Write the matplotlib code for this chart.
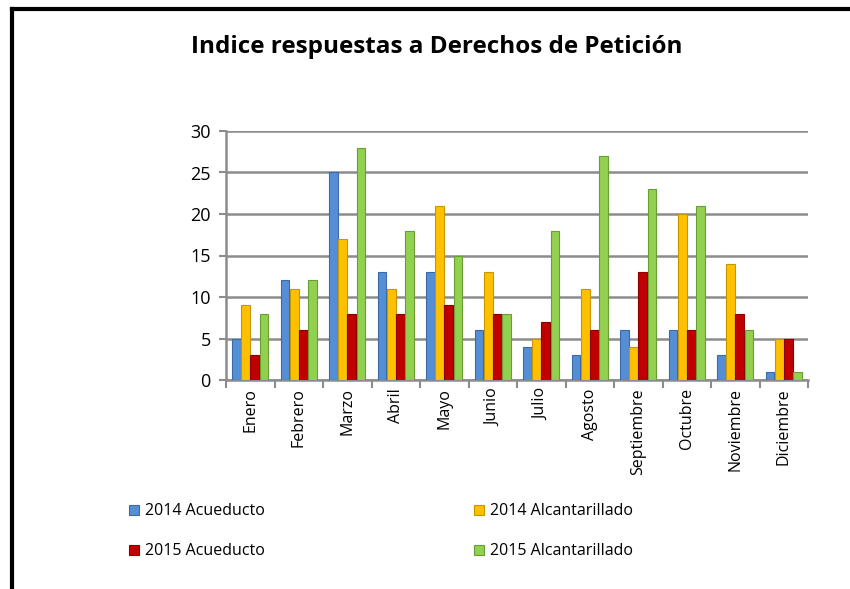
import numpy as np
import matplotlib
matplotlib.use('Agg')
import matplotlib.pyplot as plt
from matplotlib.lines import Line2D

plt.rcParams['font.family'] = ['Open Sans', 'DejaVu Sans']

# datos
meses = ['Enero', 'Febrero', 'Marzo', 'Abril', 'Mayo', 'Junio', 'Julio',
         'Agosto', 'Septiembre', 'Octubre', 'Noviembre', 'Diciembre']
acueducto_2014 = [5, 12, 25, 13, 13, 6, 4, 3, 6, 6, 3, 1]
alcantarillado_2014 = [9, 11, 17, 11, 21, 13, 5, 11, 4, 20, 14, 5]
acueducto_2015 = [3, 6, 8, 8, 9, 8, 7, 6, 13, 6, 8, 5]
alcantarillado_2015 = [8, 12, 28, 18, 15, 8, 18, 27, 23, 21, 6, 1]

series = [
    ('2014 Acueducto', acueducto_2014, '#558ED5', '#3A6BA8'),
    ('2014 Alcantarillado', alcantarillado_2014, '#FFC000', '#C89600'),
    ('2015 Acueducto', acueducto_2015, '#C00000', '#8A0000'),
    ('2015 Alcantarillado', alcantarillado_2015, '#92D050', '#6A9E35'),
]

fig = plt.figure(figsize=(8.5, 5.89), dpi=100)
ax = fig.add_axes([226/850, 1-380/589, (808-226)/850, (380-131)/589])

x = np.arange(len(meses))
w = 0.18
paso = 0.19
barras = []
for i, (nombre, vals, color, borde) in enumerate(series):
    b = ax.bar(x + (i - 1.5) * paso, vals, width=w, color=color,
               edgecolor=borde, linewidth=0.8, label=nombre, zorder=3)
    barras.append(b)

ax.set_xlim(-0.5, len(meses) - 0.5)
ax.set_ylim(0, 30)
ax.set_yticks(range(0, 31, 5))
ax.yaxis.grid(True, color='#8C8C8C', linewidth=1.8, zorder=0)
ax.set_axisbelow(True)

for s in ['top', 'right']:
    ax.spines[s].set_visible(False)
ax.spines['left'].set_color('#8C8C8C')
ax.spines['left'].set_linewidth(1.8)
ax.spines['bottom'].set_color('#8C8C8C')
ax.spines['bottom'].set_linewidth(1.8)

ax.set_xticks(x)
ax.set_xticklabels(meses, rotation=90, fontsize=11.5)
ax.tick_params(axis='x', length=0, pad=6)
ax.set_xticks(np.arange(-0.5, len(meses)), minor=True)
ax.tick_params(axis='x', which='minor', length=6, color='#8C8C8C', width=1.5)
ax.tick_params(axis='y', labelsize=13, length=5, color='#8C8C8C', width=1.5, pad=6)

fig.text(0.514, 0.92, 'Indice respuestas a Derechos de Petición',
         ha='center', va='center', fontsize=17.5, fontweight='bold')

# orden por filas como en el original
orden = [0, 2, 1, 3]
fig.legend([barras[i] for i in orden], [series[i][0] for i in orden],
           loc='upper left', bbox_to_anchor=(0.135, 0.17), ncol=2,
           frameon=False, fontsize=11.5, handlelength=0.6, handleheight=0.6,
           handletextpad=0.4, columnspacing=13.1, labelspacing=1.5)

# marco negro del recuadro original
fig.add_artist(Line2D([12/850, 12/850], [0, 1-9/589], color='black', linewidth=3))
fig.add_artist(Line2D([12/850, 1], [1-9/589, 1-9/589], color='black', linewidth=3))

fig.savefig('out.png', dpi=100)
